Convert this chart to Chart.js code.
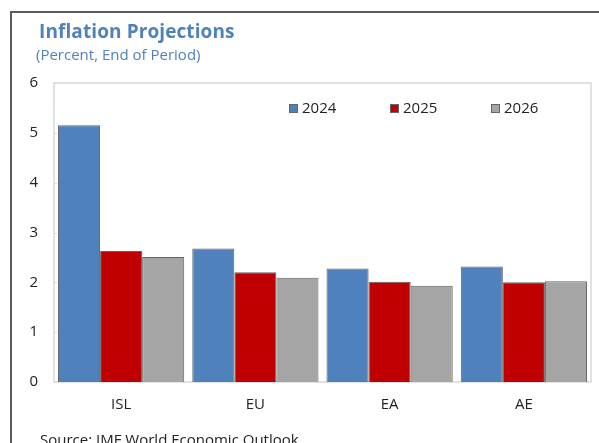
<!DOCTYPE html>
<html>
<head>
<meta charset="utf-8">
<script src="https://cdn.jsdelivr.net/npm/chart.js@4.4.1/dist/chart.umd.min.js"></script>
<style>
  html, body { margin:0; padding:0; background:#fff; }
  #wrap { position:relative; width:599px; height:443px; overflow:hidden; font-family:"Open Sans", "Noto Sans", sans-serif; }
  #frame { position:absolute; left:10px; top:11px; width:700px; height:600px; border:2px solid #5a5a5a; box-sizing:border-box; }
  #title { position:absolute; left:39px; top:22px; line-height:1; font-size:19px; font-weight:bold; color:#4f81bd; letter-spacing:0.1px; white-space:nowrap; }
  #subtitle { position:absolute; left:36px; top:47px; line-height:1; font-size:15px; color:#4f81bd; white-space:nowrap; }
  #source { position:absolute; left:40px; top:432px; line-height:1; font-size:15px; color:#222; white-space:nowrap; }
  .lt { position:absolute; line-height:1; font-size:15px; color:#222; white-space:nowrap; }
  .sw { position:absolute; width:9px; height:9px; border:1px solid #666; box-sizing:border-box; }
  canvas { position:absolute; left:0; top:0; }
</style>
</head>
<body>
<div id="wrap">
  <div id="frame"></div>
  <canvas id="c" width="599" height="443"></canvas>
  <div id="title">Inflation Projections</div>
  <div id="subtitle">(Percent, End of Period)</div>
  <div id="legend"></div>
  <div id="source">Source: IMF World Economic Outlook</div>
</div>
<script>
const categories = ["ISL", "EU", "EA", "AE"];
const seriesNames = ["2024", "2025", "2026"];
const values2024 = [5.15, 2.68, 2.28, 2.32];
const values2025 = [2.63, 2.20, 2.01, 2.00];
const values2026 = [2.51, 2.09, 1.93, 2.02];
const yTicks = [0, 1, 2, 3, 4, 5, 6];
const colors = ["#4f81bd", "#c00000", "#a5a5a5"];

const seriesValues = [values2024, values2025, values2026];
const FONT = '"Open Sans", "Noto Sans", sans-serif';

const borderPlugin = {
  id: 'plotBorder',
  beforeDatasetsDraw(chart) {
    const {ctx, chartArea: a} = chart;
    ctx.save();
    ctx.strokeStyle = '#d9d9d9';
    ctx.lineWidth = 1.5;
    ctx.strokeRect(a.left, a.top, a.right - a.left, a.bottom - a.top);
    const y = chart.scales.y;
    ctx.lineWidth = 1;
    yTicks.forEach(v => {
      const py = Math.round(y.getPixelForValue(v)) + 0.5;
      ctx.beginPath(); ctx.moveTo(a.left, py); ctx.lineTo(a.left + 3, py); ctx.stroke();
    });
    ctx.restore();
  }
};

const chart = new Chart(document.getElementById('c'), {
  type: 'bar',
  data: {
    labels: categories,
    datasets: seriesNames.map((n, i) => ({
      label: n,
      data: seriesValues[i],
      backgroundColor: colors[i],
      borderColor: 'rgba(70,70,70,0.85)',
      borderWidth: 1,
      categoryPercentage: 0.94,
      barPercentage: 1.0
    }))
  },
  options: {
    responsive: false,
    animation: false,
    devicePixelRatio: 1,
    layout: { padding: { left: 0, top: 83, right: 8, bottom: 21 } },
    plugins: { legend: { display: false }, tooltip: { enabled: false }, title: { display: false } },
    scales: {
      x: {
        grid: { display: false, drawTicks: false },
        border: { display: false },
        ticks: { color: '#222', font: { family: FONT, size: 15 }, padding: 14 },
        afterFit(s) { s.height = 40; }
      },
      y: {
        min: 0, max: 6,
        afterBuildTicks(s) { s.ticks = yTicks.map(v => ({ value: v })); },
        grid: { display: false, drawTicks: false },
        border: { display: false },
        ticks: { color: '#222', font: { family: FONT, size: 15 }, padding: 16 },
        afterFit(s) { s.width = 54; }
      }
    }
  },
  plugins: [borderPlugin]
});

// HTML legend
const lg = document.getElementById('legend');
const legX = [289, 390, 491];
seriesNames.forEach((n, i) => {
  const b = document.createElement('div');
  b.className = 'sw';
  b.style.left = legX[i] + 'px';
  b.style.top = '104px';
  b.style.background = colors[i];
  lg.appendChild(b);
  const t = document.createElement('div');
  t.className = 'lt';
  t.style.left = (legX[i] + 13) + 'px';
  t.style.top = '100px';
  t.textContent = n;
  lg.appendChild(t);
});
</script>
</body>
</html>
